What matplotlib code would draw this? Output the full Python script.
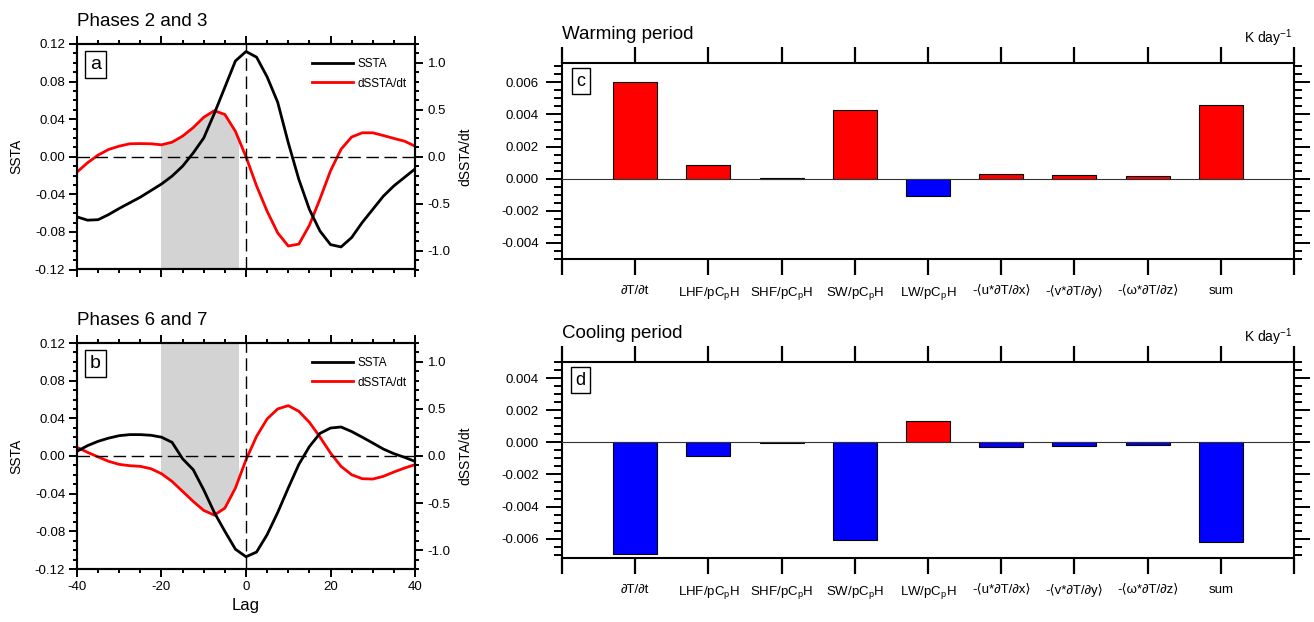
"""
    SSTA composites and mixed-layer heat budget (warming / cooling)
"""

import numpy as np
import matplotlib
matplotlib.use('Agg')
import matplotlib.pyplot as plt
from matplotlib.ticker import MultipleLocator
from matplotlib.patches import Rectangle

plt.rcParams['font.family'] = ['Liberation Sans', 'DejaVu Sans']
plt.rcParams['mathtext.fontset'] = 'custom'
plt.rcParams['mathtext.rm'] = 'Liberation Sans'
plt.rcParams['axes.linewidth'] = 1.5
plt.rcParams['axes.unicode_minus'] = False

# lag (days)
lag = np.arange(-40, 40.1, 2.5)

# Phases 2 and 3
ssta_23 = [-0.064, -0.0675, -0.067, -0.0615, -0.055, -0.049, -0.043, -0.036,
           -0.029, -0.0206, -0.010, 0.004, 0.020, 0.046, 0.074, 0.102,
           0.112, 0.106, 0.085, 0.058, 0.015, -0.024, -0.056, -0.079,
           -0.0935, -0.096, -0.086, -0.070, -0.056, -0.042, -0.031, -0.022,
           -0.013]
dssta_23 = [-0.163, -0.064, 0.018, 0.078, 0.113, 0.138, 0.14, 0.138,
            0.127, 0.155, 0.22, 0.31, 0.42, 0.49, 0.45, 0.27,
            0.0, -0.31, -0.58, -0.81, -0.95, -0.93, -0.73, -0.45,
            -0.15, 0.08, 0.21, 0.255, 0.255, 0.226, 0.195, 0.166,
            0.113]

# Phases 6 and 7
ssta_67 = [0.005, 0.011, 0.0156, 0.019, 0.0216, 0.0227, 0.0227, 0.022,
           0.020, 0.0145, -0.003, -0.0145, -0.036, -0.060, -0.080, -0.099,
           -0.107, -0.102, -0.0835, -0.060, -0.034, -0.009, 0.010, 0.024,
           0.0297, 0.0308, 0.026, 0.020, 0.0138, 0.0074, 0.0025, -0.0014,
           -0.0057]
dssta_67 = [0.092, 0.039, -0.01, -0.057, -0.089, -0.103, -0.11, -0.135,
            -0.188, -0.27, -0.376, -0.482, -0.578, -0.628, -0.553, -0.34,
            -0.04, 0.209, 0.394, 0.5, 0.535, 0.475, 0.358, 0.202,
            0.032, -0.11, -0.199, -0.241, -0.245, -0.216, -0.17, -0.128,
            -0.092]

# shaded lag window
shade_start = -20
shade_end = -2

# heat budget terms (K/day)
terms = ['\u2202T/\u2202t',
         'LHF/pC$_\\mathregular{p}$H',
         'SHF/pC$_\\mathregular{p}$H',
         'SW/pC$_\\mathregular{p}$H',
         'LW/pC$_\\mathregular{p}$H',
         '-\u27e8u*\u2202T/\u2202x\u27e9',
         '-\u27e8v*\u2202T/\u2202y\u27e9',
         '-\u27e8\u03c9*\u2202T/\u2202z\u27e9',
         'sum']
warming = [0.0060, 0.00083, 0.00003, 0.00425, -0.00109, 0.00029, 0.00025, 0.00015, 0.0046]
cooling = [-0.00695, -0.00085, -0.00002, -0.00611, 0.00134, -0.00029, -0.00023, -0.00014, -0.00621]

W, H = 1314, 622
fig = plt.figure(figsize=(W / 100, H / 100), dpi=100)


def px_axes(left, top, right, bottom):
    return fig.add_axes([left / W, 1 - bottom / H, (right - left) / W, (bottom - top) / H])


def line_panel(ax, ssta, dssta, title, letter, shade_below, show_x):
    ax2 = ax.twinx()
    ax.set_zorder(ax2.get_zorder() + 1)
    ax.patch.set_visible(False)

    # grey area between the axis edge and the red curve, clipped to the lag window
    if shade_below:
        fill = ax2.fill_between(lag, -1.2, dssta, color='#d3d3d3', lw=0)
    else:
        fill = ax2.fill_between(lag, dssta, 1.2, color='#d3d3d3', lw=0)
    clip = Rectangle((shade_start, -1.2), shade_end - shade_start, 2.4,
                     transform=ax2.transData)
    fill.set_clip_path(clip)

    lr, = ax2.plot(lag, dssta, color='red', lw=2)
    lb, = ax.plot(lag, ssta, color='black', lw=2)

    ax.axhline(0, color='black', lw=1, dashes=(9, 4))
    ax.axvline(0, color='black', lw=1, dashes=(9, 4))

    ax.set_xlim(-40, 40)
    ax.set_ylim(-0.12, 0.12)
    ax2.set_ylim(-1.2, 1.2)
    ax.xaxis.set_major_locator(MultipleLocator(20))
    ax.xaxis.set_minor_locator(MultipleLocator(5))
    ax.yaxis.set_major_locator(MultipleLocator(0.04))
    ax.yaxis.set_minor_locator(MultipleLocator(0.01))
    ax2.yaxis.set_major_locator(MultipleLocator(0.5))
    ax2.yaxis.set_minor_locator(MultipleLocator(0.1))
    ax.yaxis.set_major_formatter(lambda v, p: f'{v:.2f}')
    ax2.yaxis.set_major_formatter(lambda v, p: f'{v:.1f}')

    ax.tick_params(which='both', direction='out', width=1.4, labelsize=9.5,
                   top=True, bottom=True, left=True, right=False, pad=3)
    ax.tick_params(which='major', length=5.5)
    ax.tick_params(which='minor', length=3)
    ax2.tick_params(which='both', direction='out', width=1.4, labelsize=9.5, pad=3)
    ax2.tick_params(which='major', length=6)
    ax2.tick_params(which='minor', length=3)
    if not show_x:
        ax.tick_params(labelbottom=False)
    else:
        ax.set_xlabel('Lag', fontsize=12, labelpad=4)

    ax.set_ylabel('SSTA', fontsize=10, labelpad=8)
    ax2.set_ylabel('dSSTA/dt', fontsize=10, labelpad=6)

    ax.text(0, 1.06, title, transform=ax.transAxes, fontsize=13.5, va='bottom')
    ax.text(0.055, 0.91, letter, transform=ax.transAxes, fontsize=14,
            ha='center', va='center',
            bbox=dict(boxstyle='square,pad=0.25', fc='white', ec='black', lw=1))
    ax.legend([lb, lr], ['SSTA', 'dSSTA/dt'], loc='upper right',
              bbox_to_anchor=(1.0, 0.975), frameon=False, fontsize=8.5,
              handlelength=3.5, handletextpad=0.35, labelspacing=0.65,
              borderaxespad=0.3)


def bar_panel(ax, vals, title, letter, ylim):
    x = np.arange(1, len(terms) + 1)
    colors = ['red' if v > 0 else 'blue' for v in vals]
    ax.bar(x, vals, width=0.6, color=colors, edgecolor='black', lw=0.8, zorder=2)
    ax.axhline(0, color='#333333', lw=0.8, zorder=3)
    ax.set_xlim(0, 10)
    ax.set_ylim(*ylim)
    ax.set_xticks(np.arange(0, 11))
    ax.set_xticklabels([''] + terms + [''])
    ax.yaxis.set_major_locator(MultipleLocator(0.002))
    ax.yaxis.set_minor_locator(MultipleLocator(0.0005))
    ax.yaxis.set_major_formatter(lambda v, p: f'{v:.3f}')
    ax.tick_params(axis='x', which='major', direction='out', length=11.5, width=1.6,
                   top=True, bottom=True, labelsize=9.5, pad=7)
    ax.tick_params(axis='y', which='both', direction='out', width=1.4,
                   left=True, right=True, labelsize=9.5, pad=5)
    ax.tick_params(axis='y', which='major', length=11.5)
    ax.tick_params(axis='y', which='minor', length=5.5)
    ax.text(0, 1.1, title, transform=ax.transAxes, fontsize=13.5, va='bottom')
    ax.text(0.997, 1.07, 'K day$^{-1}$', transform=ax.transAxes, fontsize=10,
            ha='right', va='bottom')
    ax.text(0.0255, 0.908, letter, transform=ax.transAxes, fontsize=13,
            ha='center', va='center',
            bbox=dict(boxstyle='square,pad=0.25', fc='white', ec='black', lw=1))


ax_a = px_axes(77, 44, 415, 269.5)
line_panel(ax_a, ssta_23, dssta_23, 'Phases 2 and 3', 'a', True, False)
ax_b = px_axes(77, 343, 415, 569)
line_panel(ax_b, ssta_67, dssta_67, 'Phases 6 and 7', 'b', False, True)

ax_c = px_axes(562, 63, 1294, 259)
bar_panel(ax_c, warming, 'Warming period', 'c', (-0.005, 0.0072))
ax_d = px_axes(562, 362, 1294, 558)
bar_panel(ax_d, cooling, 'Cooling period', 'd', (-0.0072, 0.005))

fig.savefig('out.png', dpi=100)
